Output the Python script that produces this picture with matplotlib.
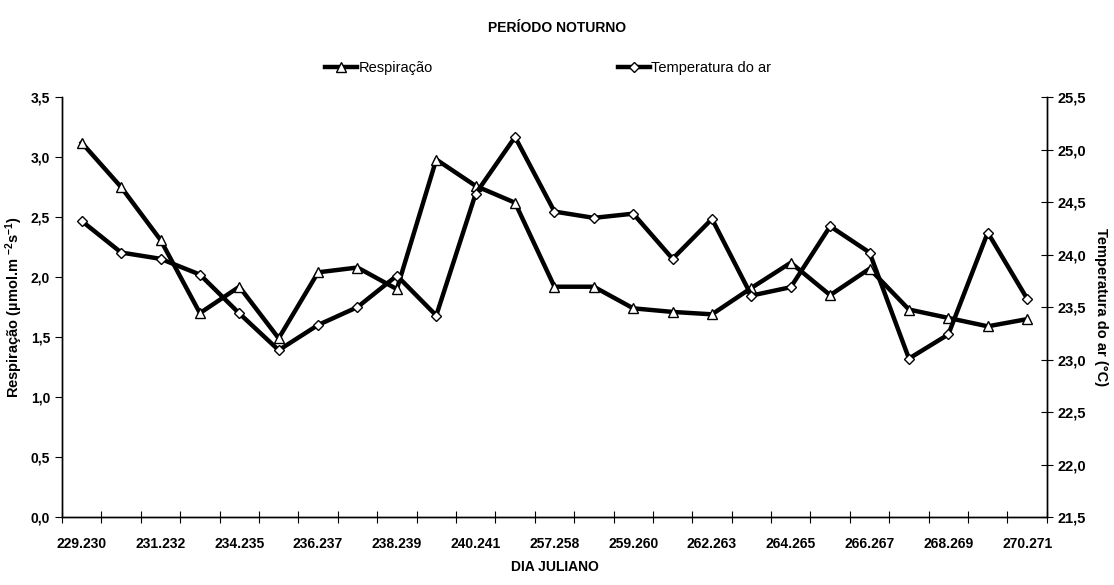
import matplotlib.pyplot as plt
from matplotlib import font_manager

# dados
dias = ['229.230', '230.231', '231.232', '233.234', '234.235', '235.236',
        '236.237', '237.238', '238.239', '239.240', '240.241', '256.257',
        '257.258', '258.259', '259.260', '261.262', '262.263', '263.264',
        '264.265', '265.266', '266.267', '267.268', '268.269', '269.270',
        '270.271']
respiracao = [3.12, 2.75, 2.31, 1.70, 1.92, 1.49, 2.04, 2.08, 1.90, 2.98,
              2.76, 2.62, 1.92, 1.92, 1.74, 1.71, 1.69, 1.91, 2.12, 1.85,
              2.07, 1.73, 1.66, 1.59, 1.65]
temperatura = [24.32, 24.02, 23.96, 23.81, 23.44, 23.09, 23.33, 23.50, 23.80,
               23.42, 24.58, 25.12, 24.41, 24.35, 24.39, 23.96, 24.34, 23.61,
               23.69, 24.27, 24.02, 23.01, 23.24, 24.21, 23.58]

nomes = {f.name for f in font_manager.fontManager.ttflist}
if 'Liberation Sans Narrow' in nomes:
    plt.rcParams['font.family'] = ['Liberation Sans Narrow', 'DejaVu Sans']
else:
    plt.rcParams['font.family'] = ['Liberation Sans', 'DejaVu Sans']
plt.rcParams['mathtext.default'] = 'regular'

fig = plt.figure(figsize=(11.14, 5.85), dpi=100)
ax = fig.add_axes([0.0557, 0.116, 0.884, 0.718])
ax2 = ax.twinx()

x = range(len(dias))
l1, = ax.plot(x, respiracao, color='black', lw=3.2, marker='^', ms=7,
              mfc='white', mec='black', mew=1.0, label='Respiração')
l2, = ax2.plot(x, temperatura, color='black', lw=3.2, marker='D', ms=5.5,
               mfc='white', mec='black', mew=1.0, label='Temperatura do ar')

ax.set_xlim(-0.5, len(dias) - 0.5)
ax.set_ylim(0, 3.5)
ax2.set_ylim(21.5, 25.5)

ax.set_yticks([i * 0.5 for i in range(8)])
ax.set_yticklabels([f'{i * 0.5:.1f}'.replace('.', ',') for i in range(8)],
                   fontweight='bold', fontsize=10)
ax2.set_yticks([21.5 + i * 0.5 for i in range(9)])
ax2.set_yticklabels([f'{21.5 + i * 0.5:.1f}'.replace('.', ',') for i in range(9)],
                    fontweight='bold', fontsize=10.5)

ax.set_xticks(list(range(0, len(dias), 2)))
ax.set_xticklabels(dias[::2], fontweight='bold', fontsize=10)
ax.set_xticks([i + 0.5 for i in range(-1, len(dias))], minor=True)
ax.tick_params(axis='x', which='major', length=0, pad=14)
ax.tick_params(axis='x', which='minor', length=8, direction='inout', width=0.8)
ax.tick_params(axis='y', length=5, direction='out', width=0.8)
ax2.tick_params(axis='y', length=8, direction='inout', width=0.8)

for a in (ax, ax2):
    a.spines['top'].set_visible(False)
    for s in ('left', 'right', 'bottom'):
        a.spines[s].set_linewidth(1.0)

ax.set_ylabel(r'Respiração (µmol.m $^{-2}$s$^{-1}$)', fontweight='bold',
              fontsize=10.5, family=['Liberation Sans', 'DejaVu Sans'])
ax2.set_ylabel('Temperatura do ar (°C)', fontweight='bold', fontsize=10.5,
               rotation=-90, labelpad=16, family=['Liberation Sans', 'DejaVu Sans'])
ax.set_xlabel('DIA JULIANO', fontweight='bold', fontsize=10, labelpad=7)

fig.text(0.5, 0.952, 'PERÍODO NOTURNO', ha='center', va='center',
         fontweight='bold', fontsize=10)
fig.legend(handles=[l1, l2], loc='center', bbox_to_anchor=(0.492, 0.884),
           ncol=2, frameon=False, fontsize=10.5, columnspacing=12.7,
           handlelength=2.2, handletextpad=0.1)

fig.savefig('out.png', dpi=100)
